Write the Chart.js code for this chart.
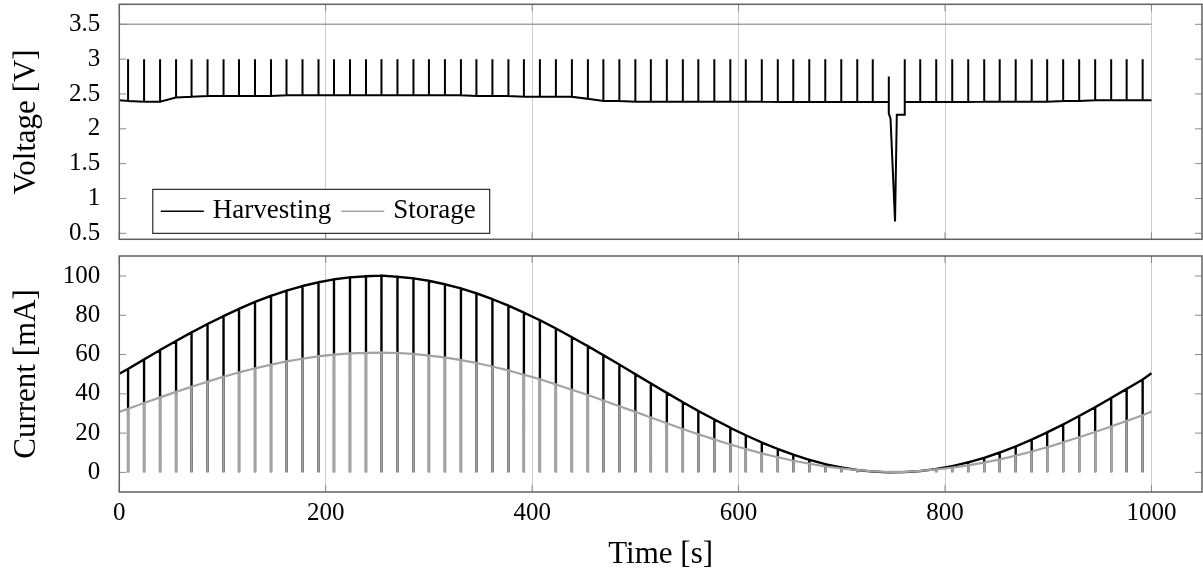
<!DOCTYPE html>
<html>
<head>
<meta charset="utf-8">
<script src="https://cdn.jsdelivr.net/npm/chart.js@4.4.0/dist/chart.umd.min.js"></script>
<style>
  html, body { margin: 0; padding: 0; background: #fff; }
  #wrap { position: relative; width: 1203px; height: 579px; }
  #wrap canvas { position: absolute; left: 0; }
  #voltageChart { top: 0; }
  #currentChart { top: 248px; }
</style>
</head>
<body>
<div id="wrap">
  <canvas id="voltageChart" width="1203" height="248"></canvas>
  <canvas id="currentChart" width="1203" height="331"></canvas>
</div>
<script>
// time of each charge pulse [s]
const spikeTimes = [8.5, 24, 39.5, 55, 70, 85.5, 101, 116, 131.5, 147, 162, 177.5, 193, 208, 223.5, 239,
  254, 269.5, 285, 300, 315.5, 331, 346, 361.5, 377, 392, 407.5, 423, 438.5, 454, 469, 484.5,
  500, 515, 530.5, 546, 561, 576.5, 592, 607, 622.5, 638, 653, 668.5, 684, 699.5, 715, 730,
  745.5, 761, 776, 791.5, 807, 822.5, 838, 853, 868.5, 884, 899, 914.5, 930, 945.5, 961, 976, 991.5];

// harvesting voltage just before each pulse [V]
const harvestVolt = [2.40, 2.39, 2.39, 2.45, 2.46, 2.47, 2.47, 2.47, 2.47, 2.47, 2.48, 2.48, 2.48, 2.48, 2.48, 2.48,
  2.48, 2.48, 2.48, 2.48, 2.48, 2.48, 2.47, 2.47, 2.47, 2.46, 2.46, 2.46, 2.46, 2.43, 2.40, 2.40,
  2.39, 2.39, 2.39, 2.39, 2.39, 2.39, 2.39, 2.39, 2.39, 2.385, 2.385, 2.385, 2.385, 2.385, 2.385, 2.385,
  2.385, 2.385, 2.385, 2.385, 2.385, 2.385, 2.39, 2.39, 2.39, 2.39, 2.39, 2.40, 2.40, 2.41, 2.41, 2.41, 2.41];
const pulseVolt = 3.0;

// voltage collapse around t = 750 s
const dipTimes = [745.5, 745.5, 745.6, 747.2, 751.6, 753.3, 761, 761, 761];
const dipVolt = [2.385, 2.75, 2.22, 2.15, 0.67, 2.20, 2.20, 3.0, 2.385];

const storageTimes = [0, 1000];
const storageVolt = [3.5, 3.5];

// currents just before each pulse [mA]
const harvestCurr = [52.7, 57.5, 62.3, 66.9, 71.3, 75.6, 79.6, 83.3, 86.8, 89.9, 92.6, 94.9, 96.8, 98.3, 99.3, 99.9,
  100.2, 99.6, 98.8, 97.6, 95.8, 93.7, 91.2, 88.2, 84.9, 81.4, 77.5, 73.3, 68.8, 64.3, 59.7, 54.9,
  50.0, 45.3, 40.5, 35.7, 31.3, 26.9, 22.7, 18.9, 15.2, 11.9, 9.0, 6.4, 4.2, 2.5, 1.2, 0.4,
  0.0, 0.1, 0.7, 1.7, 3.2, 5.1, 7.4, 10.1, 13.2, 16.7, 20.4, 24.4, 28.7, 33.2, 37.9, 42.5, 47.3];
const storageCurr = [32.4, 35.3, 38.2, 41.0, 43.6, 46.2, 48.7, 50.9, 53.0, 54.9, 56.5, 57.9, 59.1, 60.0, 60.6, 60.9,
  61.0, 60.8, 60.3, 59.5, 58.5, 57.2, 55.7, 53.9, 51.9, 49.7, 47.4, 44.8, 42.1, 39.4, 36.6, 33.7,
  30.8, 27.9, 25.0, 22.1, 19.4, 16.8, 14.2, 11.9, 9.7, 7.7, 5.9, 4.4, 3.0, 2.0, 1.2, 0.5,
  0.2, 0.2, 0.7, 1.5, 2.4, 3.6, 5.0, 6.6, 8.5, 10.6, 12.8, 15.3, 17.9, 20.6, 23.4, 26.2, 29.1];

// first and last samples
const edgeTimes = [0, 1000];
const edgeVolt = [2.41, 2.41];
const edgeHarvCurr = [50.3, 50.5];
const edgeStorCurr = [30.8, 31.0];

const timeTicks = [0, 200, 400, 600, 800, 1000];
const voltTicks = [0.5, 1, 1.5, 2, 2.5, 3, 3.5];
const currTicks = [0, 20, 40, 60, 80, 100];

const FONT = "'Liberation Serif', 'Times New Roman', serif";
const BLACK = "#000000";
const GREY = "#a3a3a3";

/* ---------- build line data ---------- */
function voltagePoints() {
    const pts = [{ x: edgeTimes[0], y: edgeVolt[0] }];
    const dipEnd = dipTimes[dipTimes.length - 1];
    spikeTimes.forEach((t, i) => {
        if (t >= dipTimes[0] && t <= dipEnd) {
            if (t === dipTimes[0]) dipTimes.forEach((d, j) => pts.push({ x: d, y: dipVolt[j] }));
            return;
        }
        const v = harvestVolt[i];
        pts.push({ x: t, y: v }, { x: t, y: pulseVolt }, { x: t, y: v });
    });
    pts.push({ x: edgeTimes[1], y: edgeVolt[1] });
    return pts;
}

function currentPoints(values, edges) {
    const pts = [{ x: edgeTimes[0], y: edges[0] }];
    spikeTimes.forEach((t, i) => {
        pts.push({ x: t, y: values[i] }, { x: t, y: 0 }, { x: t, y: values[i] });
    });
    pts.push({ x: edgeTimes[1], y: edges[1] });
    return pts;
}

/* ---------- plugins ---------- */
const framePlugin = {
    id: "frame",
    afterDatasetsDraw(chart) {
        const { ctx, chartArea: a, scales } = chart;
        const len = 7;
        ctx.save();
        ctx.strokeStyle = "#8a8a8a";
        ctx.lineWidth = 1;
        ctx.beginPath();
        scales.y.ticks.forEach(t => {
            const py = scales.y.getPixelForValue(t.value);
            ctx.moveTo(a.left, py); ctx.lineTo(a.left + len, py);
            ctx.moveTo(a.right, py); ctx.lineTo(a.right - len, py);
        });
        scales.x.ticks.forEach(t => {
            const px = scales.x.getPixelForValue(t.value);
            ctx.moveTo(px, a.bottom); ctx.lineTo(px, a.bottom - len);
            ctx.moveTo(px, a.top); ctx.lineTo(px, a.top + len);
        });
        ctx.stroke();
        ctx.strokeStyle = "#606060";
        ctx.lineWidth = 1.5;
        ctx.strokeRect(a.left, a.top, a.right - a.left, a.bottom - a.top);
        ctx.restore();
    }
};

const legendPlugin = {
    id: "boxLegend",
    afterDraw(chart) {
        const { ctx, chartArea: a } = chart;
        const sets = chart.data.datasets;
        ctx.save();
        ctx.font = "27px " + FONT;
        const sample = 43, gap = 9;
        let w = 8;
        sets.forEach(d => { w += sample + gap + ctx.measureText(d.label).width + 10; });
        w += 4;
        const h = 44;
        const x0 = a.left + 33.5, y0 = a.bottom - 6 - h;
        ctx.fillStyle = "#fff";
        ctx.fillRect(x0, y0, w, h);
        ctx.strokeStyle = "#000";
        ctx.lineWidth = 1;
        ctx.strokeRect(x0, y0, w, h);
        const cy = y0 + h / 2;
        let x = x0 + 8;
        ctx.textBaseline = "middle";
        sets.forEach(d => {
            ctx.strokeStyle = d.borderColor;
            ctx.lineWidth = 1.6;
            ctx.beginPath();
            ctx.moveTo(x, cy); ctx.lineTo(x + sample, cy);
            ctx.stroke();
            x += sample + gap;
            ctx.fillStyle = "#000";
            ctx.fillText(d.label, x, cy);
            x += ctx.measureText(d.label).width + 10;
        });
        ctx.restore();
    }
};

/* ---------- shared scale helpers ---------- */
function fixedTicks(values) {
    return scale => { scale.ticks = values.map(v => ({ value: v })); };
}
function noEdgePadding(scale) {
    scale.paddingTop = scale.paddingBottom = scale.paddingLeft = scale.paddingRight = 0;
}

function xScale(showLabels, height) {
    return {
        type: "linear",
        min: 0,
        max: 1049,
        afterBuildTicks: fixedTicks(timeTicks),
        afterFit: s => { noEdgePadding(s); s.height = height; },
        grid: { display: true, drawTicks: false, color: "#cccccc", lineWidth: 1 },
        border: { display: false },
        ticks: {
            display: showLabels,
            padding: 6,
            color: "#000",
            font: { family: FONT, size: 25 },
            callback: v => String(v)
        },
        title: {
            display: showLabels,
            text: "Time [s]",
            color: "#000",
            font: { family: FONT, size: 31 },
            padding: { top: 0, bottom: 5.4 }
        }
    };
}

function yScale(min, max, tickVals, label) {
    return {
        type: "linear",
        min: min,
        max: max,
        afterBuildTicks: fixedTicks(tickVals),
        afterFit: s => { noEdgePadding(s); s.width = 119.3; },
        grid: { display: false },
        border: { display: false },
        ticks: {
            padding: 11,
            color: "#000",
            font: { family: FONT, size: 25 },
            callback: v => String(v)
        },
        title: {
            display: true,
            text: label,
            color: "#000",
            font: { family: FONT, size: 31 },
            padding: { top: 8.4, bottom: 0 }
        }
    };
}

const common = {
    responsive: false,
    animation: false,
    events: [],
    elements: { point: { radius: 0 }, line: { tension: 0 } },
    plugins: { legend: { display: false }, tooltip: { enabled: false } }
};

/* ================= VOLTAGE ================= */
new Chart(document.getElementById("voltageChart"), {
    type: "line",
    data: {
        datasets: [
            { label: "Harvesting", data: voltagePoints(), borderColor: BLACK, borderWidth: 2, order: 1 },
            {
                label: "Storage",
                data: storageTimes.map((t, i) => ({ x: t, y: storageVolt[i] })),
                borderColor: GREY,
                borderWidth: 1.6,
                order: 0
            }
        ]
    },
    options: {
        ...common,
        layout: { padding: { top: 4.3, right: 1, left: 0, bottom: 0 } },
        scales: {
            x: xScale(false, 8.7),
            y: yScale(0.414, 3.787, voltTicks, "Voltage [V]")
        }
    },
    plugins: [framePlugin, legendPlugin]
});

/* ================= CURRENT ================= */
new Chart(document.getElementById("currentChart"), {
    type: "line",
    data: {
        datasets: [
            { label: "Harvesting", data: currentPoints(harvestCurr, edgeHarvCurr), borderColor: BLACK, borderWidth: 2.4, order: 1 },
            { label: "Storage", data: currentPoints(storageCurr, edgeStorCurr), borderColor: GREY, borderWidth: 2.2, order: 0 }
        ]
    },
    options: {
        ...common,
        layout: { padding: { top: 8, right: 1, left: 0, bottom: 0 } },
        scales: {
            x: xScale(true, 87),
            y: yScale(-10, 110.2, currTicks, "Current [mA]")
        }
    },
    plugins: [framePlugin]
});
</script>
</body>
</html>
